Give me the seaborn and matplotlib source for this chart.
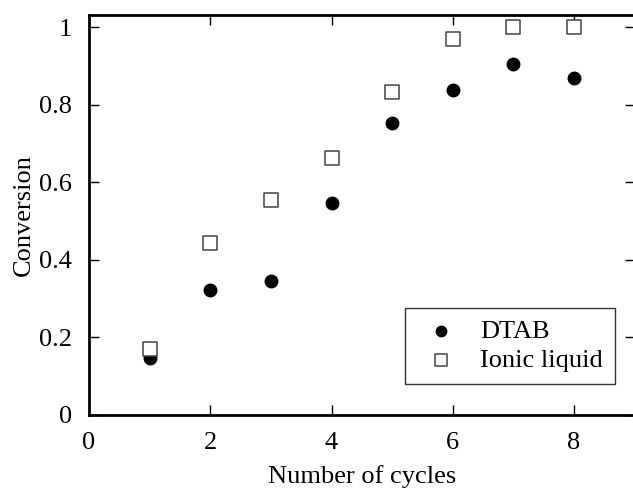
import pandas as pd
import matplotlib.pyplot as plt
import seaborn as sns

# -----------------------------
# Data
# -----------------------------
cycles = [1, 2, 3, 4, 5, 6, 7, 8]
dtab = [0.147, 0.322, 0.345, 0.546, 0.752, 0.838, 0.905, 0.868]
ionic_liquid = [0.170, 0.443, 0.554, 0.662, 0.832, 0.969, 1.0, 1.0]

df = pd.DataFrame({
    "cycle": cycles * 2,
    "conversion": dtab + ionic_liquid,
    "series": ["DTAB"] * len(cycles) + ["Ionic liquid"] * len(cycles),
})

# -----------------------------
# Style
# -----------------------------
sns.set_style("ticks")
plt.rcParams["font.family"] = ["Liberation Serif", "DejaVu Serif"]
plt.rcParams["text.color"] = "black"
plt.rcParams["axes.labelcolor"] = "black"
plt.rcParams["xtick.color"] = "black"
plt.rcParams["ytick.color"] = "black"
plt.rcParams["axes.edgecolor"] = "black"

fig = plt.figure(figsize=(6.33, 4.91), dpi=100)
ax = fig.add_axes([0.1406, 0.1548, 0.862, 0.8147])

d1 = df[df["series"] == "DTAB"]
d2 = df[df["series"] == "Ionic liquid"]
sns.scatterplot(data=d1, x="cycle", y="conversion", ax=ax, marker="o",
                s=100, color="black", edgecolor="black", linewidth=0, label="DTAB")
sns.scatterplot(data=d2, x="cycle", y="conversion", ax=ax, marker="s",
                s=90, facecolor="white", edgecolor="#444444", linewidth=1.1,
                label="Ionic liquid")

ax.set_xlim(0, 9)
ax.set_ylim(0, 1.031)
ax.set_xticks([0, 2, 4, 6, 8])
ax.set_xticklabels(["0", "2", "4", "6", "8"])
ax.set_yticks([0, 0.2, 0.4, 0.6, 0.8, 1.0])
ax.set_yticklabels(["0", "0.2", "0.4", "0.6", "0.8", "1"])
ax.tick_params(direction="in", length=7, width=1.0, labelsize=19,
               top=True, right=True, pad=12)
for side in ["left", "bottom", "top"]:
    ax.spines[side].set_linewidth(2.0)
ax.spines["right"].set_linewidth(1.0)

ax.set_xlabel("Number of cycles", fontsize=19, labelpad=8)
ax.set_ylabel("Conversion", fontsize=19, labelpad=3)

leg = ax.legend(loc="lower right", bbox_to_anchor=(0.964, 0.0775), fontsize=19,
                frameon=True, fancybox=False, edgecolor="black",
                borderaxespad=0, handletextpad=0.6, borderpad=0.45,
                labelspacing=0.2, handlelength=1.8, markerscale=0.85)
leg.get_frame().set_linewidth(1.0)

plt.savefig("out.png", dpi=100)
